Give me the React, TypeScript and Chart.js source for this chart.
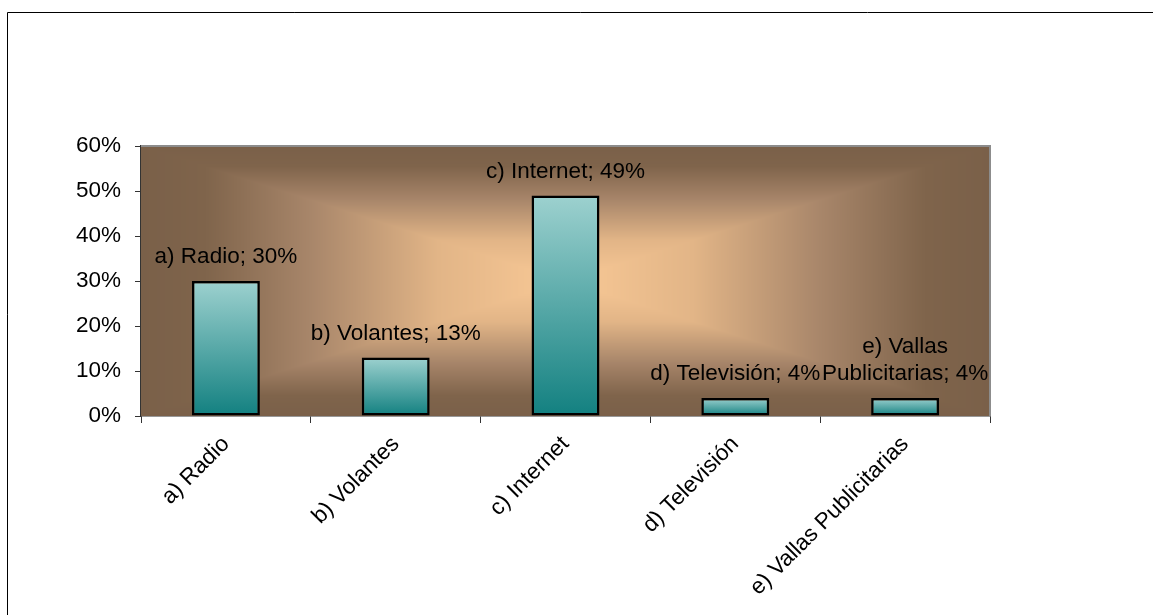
import React, { useEffect, useRef } from "react";
import { Chart, registerables } from "chart.js";

Chart.register(...registerables);

const categories = ["a) Radio", "b) Volantes", "c) Internet", "d) Televisión", "e) Vallas Publicitarias"];
const values = [0.30, 0.13, 0.49, 0.04, 0.04];
const barLabels = [
  ["a) Radio; 30%"],
  ["b) Volantes; 13%"],
  ["c) Internet; 49%"],
  ["d) Televisión; 4%"],
  ["e) Vallas", "Publicitarias; 4%"],
];
const yTicks = [0, 0.1, 0.2, 0.3, 0.4, 0.5, 0.6];

const FONT = "'Liberation Sans', Arial, sans-serif";
const FS = 22.5;
const W = 1153;
const H = 615;

// gradient stops: 0 = edge, 1 = centre
const bgStops: [number, number[]][] = [
  [0, [122, 96, 73]],
  [0.15, [127, 100, 75]],
  [0.4, [168, 134, 106]],
  [0.7, [226, 181, 135]],
  [1, [249, 201, 150]],
];

function colorAt(t: number) {
  for (let i = 1; i < bgStops.length; i++) {
    const [o1, c1] = bgStops[i];
    const [o0, c0] = bgStops[i - 1];
    if (t <= o1) {
      const f = (t - o0) / (o1 - o0 || 1);
      return [0, 1, 2].map((k) => c0[k] + (c1[k] - c0[k]) * f);
    }
  }
  return bgStops[bgStops.length - 1][1];
}

const bgPlugin = {
  id: "bgPlugin",
  beforeDraw(chart: any) {
    const ctx = chart.ctx;
    ctx.save();
    ctx.fillStyle = "#ffffff";
    ctx.fillRect(0, 0, chart.width, chart.height);
    ctx.strokeStyle = "#000000";
    ctx.lineWidth = 1;
    ctx.beginPath();
    ctx.moveTo(7.5, chart.height + 5);
    ctx.lineTo(7.5, 12.5);
    ctx.lineTo(chart.width + 5, 12.5);
    ctx.stroke();
    ctx.restore();
  },
  beforeDatasetsDraw(chart: any) {
    const ctx = chart.ctx;
    const { left: L, right: R, top: T, bottom: B } = chart.chartArea;
    const w = Math.round(R - L);
    const h = Math.round(B - T);
    const off = document.createElement("canvas");
    off.width = w;
    off.height = h;
    const octx = off.getContext("2d")!;
    const img = octx.createImageData(w, h);
    const hw = w / 2;
    const hh = h / 2;
    for (let y = 0; y < h; y++) {
      const dy = Math.abs(y + 0.5 - hh) / hh;
      for (let x = 0; x < w; x++) {
        const dx = Math.abs(x + 0.5 - hw) / hw;
        const t = 1 - Math.max(dx, dy);
        const c = colorAt(t);
        const p = (y * w + x) * 4;
        img.data[p] = c[0];
        img.data[p + 1] = c[1];
        img.data[p + 2] = c[2];
        img.data[p + 3] = 255;
      }
    }
    octx.putImageData(img, 0, 0);
    ctx.save();
    ctx.drawImage(off, L, T, R - L, B - T);
    ctx.strokeStyle = "#8c8c8c";
    ctx.lineWidth = 2;
    ctx.beginPath();
    ctx.moveTo(L, T);
    ctx.lineTo(R, T);
    ctx.lineTo(R, B);
    ctx.stroke();
    ctx.restore();
  },
  afterDatasetsDraw(chart: any) {
    const ctx = chart.ctx;
    const meta = chart.getDatasetMeta(0);
    ctx.save();
    ctx.font = `${FS}px ${FONT}`;
    ctx.fillStyle = "#000000";
    ctx.textAlign = "center";
    ctx.textBaseline = "middle";
    meta.data.forEach((bar: any, i: number) => {
      const lines = barLabels[i];
      const n = lines.length;
      lines.forEach((line: string, j: number) => {
        const y = bar.y - 24 - (n - 1 - j) * 27;
        ctx.fillText(line, bar.x, y);
      });
    });
    ctx.restore();
  },
};

export default function App() {
  const ref = useRef<HTMLCanvasElement | null>(null);
  useEffect(() => {
    if (!ref.current) return;
    const chart = new Chart(ref.current, {
      type: "bar",
      data: {
        labels: categories,
        datasets: [
          {
            data: values,
            backgroundColor: (c: any) => {
              const ch = c.chart;
              if (!ch.chartArea || c.type !== "data") return "#5aa8a7";
              const ys = ch.scales.y;
              const top = ys.getPixelForValue(c.raw);
              const bottom = ys.getPixelForValue(0);
              const g = ch.ctx.createLinearGradient(0, top, 0, bottom);
              g.addColorStop(0, "#9dd1cf");
              g.addColorStop(1, "#128080");
              return g;
            },
            borderColor: "#000000",
            borderWidth: 2.5,
            borderSkipped: false,
            categoryPercentage: 1,
            barPercentage: 0.4,
          },
        ],
      },
      options: {
        responsive: false,
        animation: false,
        layout: { padding: { top: 146, right: 163, left: 0, bottom: 0 } },
        plugins: { legend: { display: false }, tooltip: { enabled: false } },
        scales: {
          x: {
            offset: true,
            grid: { offset: true, drawOnChartArea: false, tickLength: 7, color: "#333333" },
            border: { display: true, color: "#333333", width: 1.5 },
            ticks: {
              minRotation: 45,
              maxRotation: 45,
              autoSkip: false,
              color: "#000000",
              font: { size: FS, family: FONT },
              padding: 8,
            },
            afterFit: (s: any) => {
              s.height = H - 416;
            },
          },
          y: {
            min: 0,
            max: 0.6,
            afterBuildTicks: (s: any) => {
              s.ticks = yTicks.map((v) => ({ value: v }));
            },
            grid: { drawOnChartArea: false, tickLength: 6, color: "#333333" },
            border: { display: true, color: "#333333", width: 1.5 },
            ticks: {
              color: "#000000",
              font: { size: FS, family: FONT },
              padding: 14,
              callback: (v: any) => `${Math.round(Number(v) * 100)}%`,
            },
            afterFit: (s: any) => {
              s.width = 141;
            },
          },
        },
      },
      plugins: [bgPlugin],
    });
    return () => chart.destroy();
  }, []);
  return (
    <canvas
      ref={ref}
      width={W}
      height={H}
      style={{ position: "absolute", left: 0, top: 0, width: W, height: H }}
    />
  );
}
